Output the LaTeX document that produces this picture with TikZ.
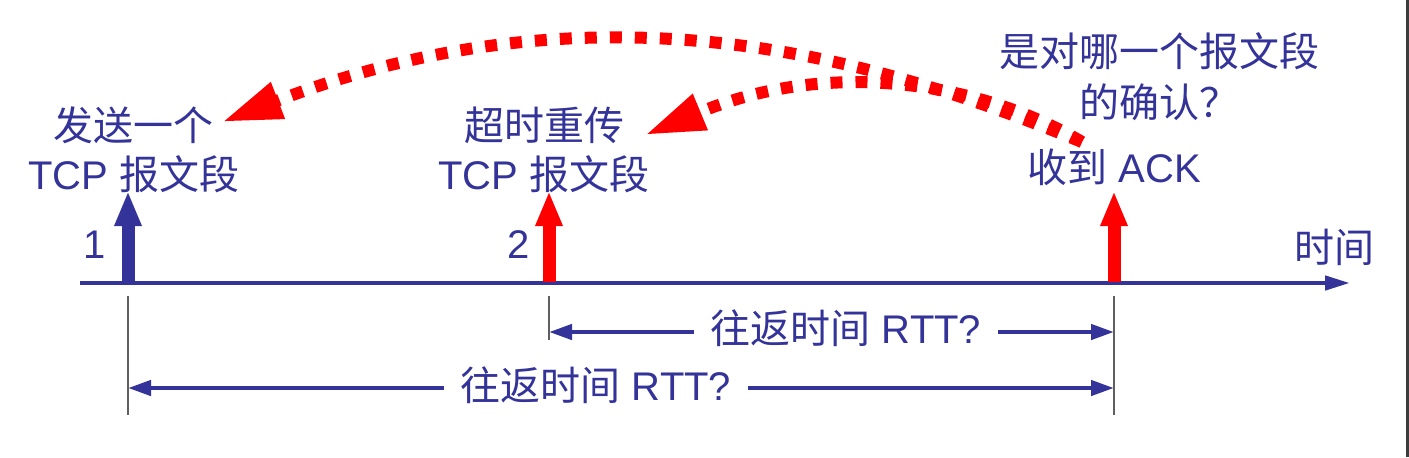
\documentclass[tikz,border=0pt]{standalone}
\usepackage{fontspec}
\setmainfont{Liberation Sans}
\newfontfamily\cjk{Noto Sans CJK SC}
\usetikzlibrary{arrows.meta}
\definecolor{navy}{RGB}{51,51,153}
\definecolor{tickgray}{RGB}{95,95,95}
\definecolor{edgegray}{RGB}{60,60,60}
\begin{document}
\begin{tikzpicture}[x=0.5pt,y=-0.5pt,
  lbl/.style={text=navy, font=\fontsize{20pt}{24pt}\selectfont, inner sep=0pt, anchor=base},
  rttlbl/.style={lbl, inner xsep=8pt},
  tickline/.style={draw=tickgray, line width=0.75pt},
  timeaxis/.style={draw=navy, line width=2.25pt, -{Triangle[length=12.5pt,width=7pt]}},
  rttarrow/.style={draw=navy, line width=2.2pt, -{Triangle[length=11.5pt,width=7.5pt]}},
  segarrow/.style={line width=6.5pt, -{Triangle[length=17.5pt,width=12.5pt]}},
  redcurve/.style={draw=red, line width=6pt, dash pattern=on 6pt off 6.5pt,
                   -{Triangle[length=30pt,width=18pt]}, red}
]
\useasboundingbox[fill=white] (0,0) rectangle (1409,457);
\fill[edgegray] (1406,0) rectangle (1409,457);

% coordinates
\coordinate (axL) at (80,283);
\coordinate (axR) at (1350,283);
\coordinate (p1) at (128,282);
\coordinate (p2) at (549,282);
\coordinate (p3) at (1114,282);
\coordinate (p1top) at (128,191);
\coordinate (p2top) at (549,191);
\coordinate (p3top) at (1114,191);
\coordinate (k1a) at (128,296);
\coordinate (k1b) at (128,415);
\coordinate (k2a) at (549,296);
\coordinate (k2b) at (549,340);
\coordinate (k3a) at (1114,296);
\coordinate (k3b) at (1114,415);
\coordinate (r1L) at (549,332);
\coordinate (r1R) at (1114,332);
\coordinate (r2L) at (128,388);
\coordinate (r2R) at (1114,388);
\coordinate (ackTop) at (1082,142);
\coordinate (sendTip) at (222,122);
\coordinate (reTip) at (645,135);

% time axis and ticks
\draw[timeaxis] (axL) -- (axR);
\draw[tickline] (k1a) -- (k1b);
\draw[tickline] (k2a) -- (k2b);
\draw[tickline] (k3a) -- (k3b);

% segment arrows
\draw[segarrow, draw=navy, fill=navy] (p1) -- (p1top);
\draw[segarrow, draw=red, fill=red] (p2) -- (p2top);
\draw[segarrow, draw=red, fill=red] (p3) -- (p3top);

% RTT labels and arrows
\node[rttlbl] (rttA) at (846,343) {{\cjk 往返时间} RTT?};
\node[rttlbl] (rttB) at (596,400) {{\cjk 往返时间} RTT?};
\draw[rttarrow] (rttA.west |- r1L) -- (r1L);
\draw[rttarrow] (rttA.east |- r1R) -- (r1R);
\draw[rttarrow] (rttB.west |- r2L) -- (r2L);
\draw[rttarrow] (rttB.east |- r2R) -- (r2R);

% red dotted curves
\draw[redcurve] (ackTop) .. controls (900,68) and (614,-29) .. (sendTip);
\draw[redcurve] (ackTop) .. controls (995,90) and (842,53) .. (reTip);

% labels
\node[lbl] (send1) at (134,140) {{\cjk 发送一个}};
\node[lbl] (send2) at (134,189) {TCP {\cjk 报文段}};
\node[lbl] (re1) at (544,140) {{\cjk 超时重传}};
\node[lbl] (re2) at (544,189) {TCP {\cjk 报文段}};
\node[lbl] (q1) at (1159,66) {{\cjk 是对哪一个报文段}};
\node[lbl] (q2) at (1159,117) {{\cjk 的确认？}};
\node[lbl] (ack) at (1114,182) {{\cjk 收到} ACK};
\node[lbl] (time) at (1334,262) {{\cjk 时间}};
\node[lbl] (n1) at (95,258) {1};
\node[lbl] (n2) at (519,258) {2};
\end{tikzpicture}
\end{document}
